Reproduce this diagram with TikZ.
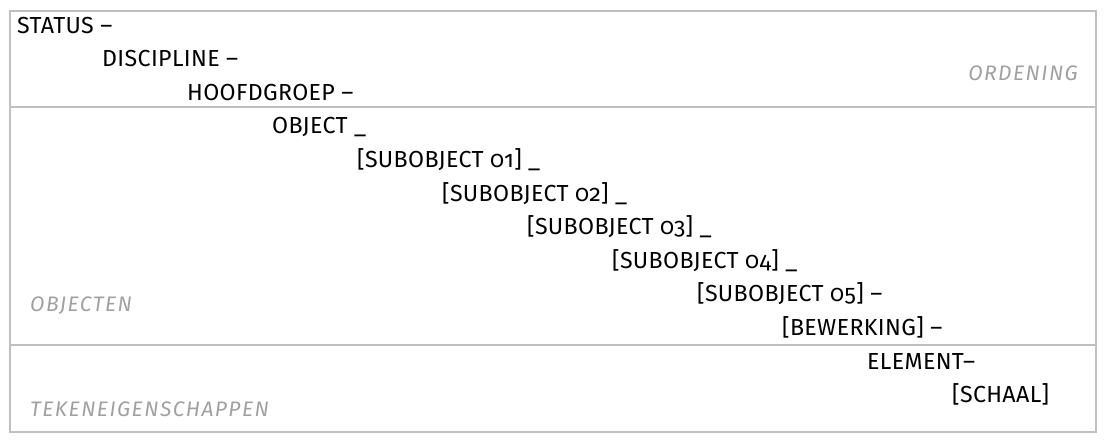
\documentclass[tikz,border=0pt]{standalone}
\usepackage{fontspec}
\setmainfont{Fira Sans}[Numbers=OldStyle, LetterSpace=1.5]
\newfontfamily\zonefont{Fira Sans}[LetterSpace=7]
\usetikzlibrary{positioning}
\definecolor{framegray}{RGB}{192,192,192}
\definecolor{zonegray}{RGB}{160,160,160}

\begin{document}
\begin{tikzpicture}[x=1pt, y=-1pt, font=\fontsize{23.2}{27}\selectfont,
  code/.style={anchor=base west, inner sep=0pt},
  zone/.style={font=\zonefont\fontsize{21}{25}\selectfont\itshape, text=zonegray, inner sep=0pt},
  rule/.style={draw=framegray, line width=1.5pt}]
  \useasboundingbox (0,0) rectangle (1105,440);
  % frame and zone dividers
  \draw[rule] (10,11) rectangle (1096,432);
  \coordinate (d1l) at (10,107);  \coordinate (d1r) at (1096,107);
  \coordinate (d2l) at (10,345);  \coordinate (d2r) at (1096,345);
  \draw[rule] (d1l) -- (d1r);
  \draw[rule] (d2l) -- (d2r);
  % naming parts, one step further per line
  \foreach \txt [count=\i from 0] in {STATUS –, DISCIPLINE –, HOOFDGROEP –,
      OBJECT \_, {[SUBOBJECT 01] \_}, {[SUBOBJECT 02] \_}, {[SUBOBJECT 03] \_},
      {[SUBOBJECT 04] \_}, {[SUBOBJECT 05] –}, {[BEWERKING] –}, ELEMENT–, {[SCHAAL]}}
    \node[code] (part\i) at ({17+85*\i}, {33+33.6*\i}) {\txt};
  % zone labels
  \node[zone, anchor=base east] (ordening) at (1078,80) {ORDENING};
  \node[zone, anchor=base west] (objecten) at (30,311) {OBJECTEN};
  \node[zone, anchor=base west] (teken) at (30,416) {TEKENEIGENSCHAPPEN};
\end{tikzpicture}
\end{document}
